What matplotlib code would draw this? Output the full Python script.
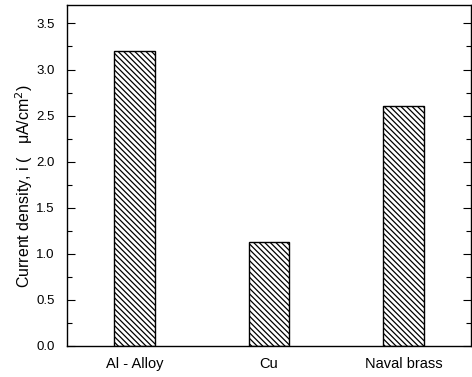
import matplotlib

matplotlib.use("Agg")
import matplotlib.pyplot as plt
from matplotlib.ticker import MultipleLocator, FormatStrFormatter

plt.rcParams["font.family"] = ["Liberation Sans", "DejaVu Sans"]
plt.rcParams["hatch.linewidth"] = 0.9

materials = ["Al - Alloy", "Cu", "Naval brass"]
current_density = [3.2, 1.13, 2.6]

fig = plt.figure(figsize=(4.72, 3.77), dpi=100)
ax = fig.add_axes([67 / 472, 31 / 377, 404 / 472, 341 / 377])

x = range(len(materials))
ax.bar(x, current_density, width=0.3, facecolor="white", edgecolor="black",
       linewidth=1.0, hatch="\\" * 6)

ax.set_xlim(-0.5, 2.5)
ax.set_ylim(0, 3.7)
ax.set_xticks(list(x))
ax.set_xticklabels(materials, fontsize=10.5)
ax.yaxis.set_major_locator(MultipleLocator(0.5))
ax.yaxis.set_minor_locator(MultipleLocator(0.25))
ax.yaxis.set_major_formatter(FormatStrFormatter("%.1f"))
ax.tick_params(axis="y", which="both", direction="in", right=True, labelsize=9.5, pad=9)
ax.tick_params(axis="y", which="major", length=6, width=0.8)
ax.tick_params(axis="y", which="minor", length=3.5, width=0.8)
ax.tick_params(axis="x", length=0, pad=8)
for s in ax.spines.values():
    s.set_linewidth(1.0)

ax.set_ylabel("Current density, i (   \u03bcA/cm$^2$)", fontsize=11.5)
ax.yaxis.set_label_coords(-0.08, 0.47)

fig.savefig("out.png", dpi=100)
